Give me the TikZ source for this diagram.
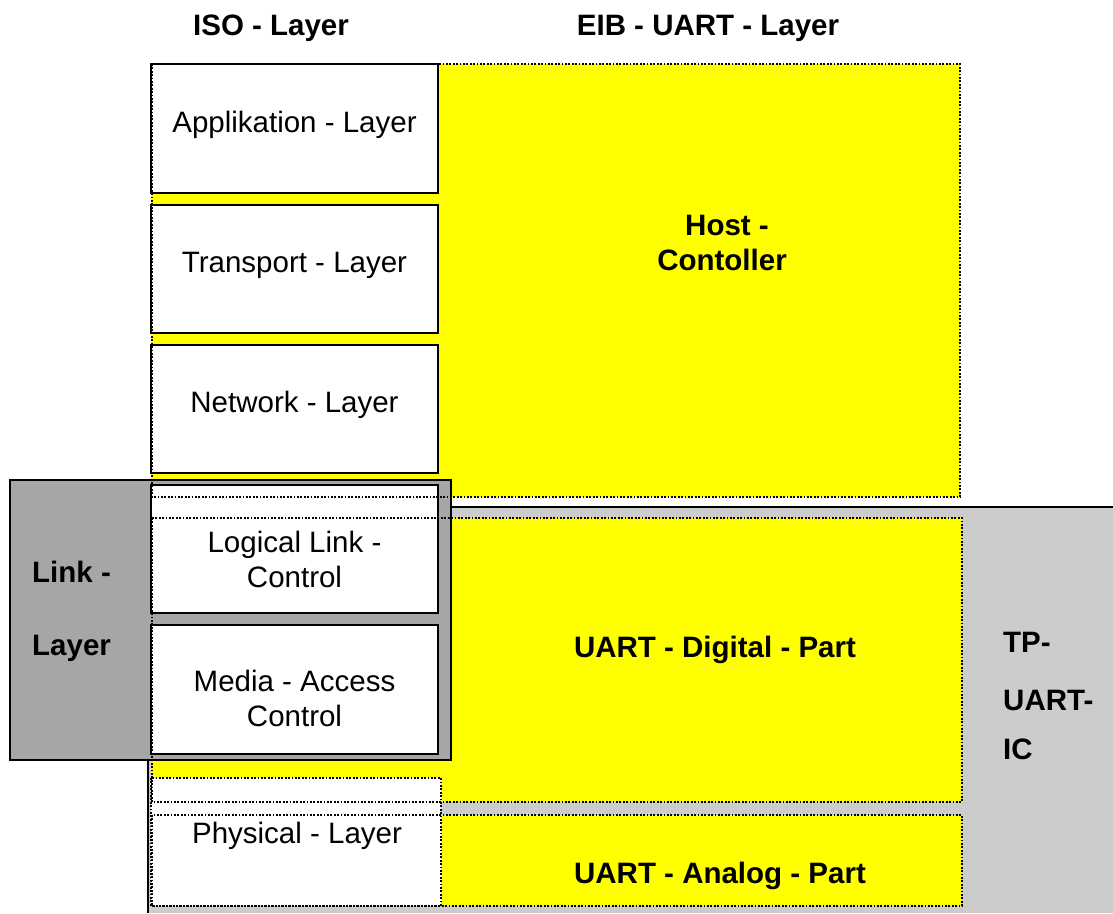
\documentclass[tikz,border=0pt]{standalone}
\usepackage{fontspec}
\setmainfont{Liberation Sans}
\definecolor{ylw}{HTML}{FFFF00}
\definecolor{tpgray}{HTML}{CCCCCC}
\definecolor{linkgray}{HTML}{A6A6A6}
\begin{document}
\begin{tikzpicture}[x=1pt,y=-1pt,
  txt/.style={inner sep=0pt,anchor=base,font=\fontsize{29.5}{35}\selectfont},
  btxt/.style={txt,font=\fontsize{29.5}{35}\selectfont\bfseries},
  ltxt/.style={btxt,anchor=base west},
  isobox/.style={draw=black,line width=1.5pt,fill=white},
  dotline/.style={draw=black,line width=1.6pt,dash pattern=on 1.8pt off 1.6pt},
  yfill/.style={fill=ylw}]
\useasboundingbox (0,0) rectangle (1113,913);
% TP-UART-IC region
\fill[tpgray] (148,507) rectangle (1113,913);
\draw[line width=2pt] (148,913) -- (148,507) -- (1113,507);
% yellow regions (fills)
\fill[yfill] (151,64) rectangle (960,497);
\fill[yfill] (151,518) rectangle (962,802);
\fill[yfill] (151,815) rectangle (962,906);
% link layer box
\draw[line width=2pt,fill=linkgray] (10,480) rectangle (451,760);
% ISO boxes
\draw[isobox] (151,64) rectangle (438,193);
\draw[isobox] (151,205) rectangle (438,333);
\draw[isobox] (151,345) rectangle (438,473);
\draw[isobox] (151,485) rectangle (438,613);
\draw[isobox] (151,625) rectangle (438,754);
\fill[white] (151,778) rectangle (441,906);
\draw[dotline] (151,778) rectangle (441,906);
% dotted borders of yellow regions
\draw[dotline] (152,64) rectangle (960,497);
\draw[dotline] (152,518) rectangle (962,802);
\draw[dotline] (152,815) rectangle (962,906);
% headers
\node[btxt] (iso) at (271,35) {ISO - Layer};
\node[btxt] (eib) at (708,35) {EIB - UART - Layer};
% ISO texts
\node[txt] (app) at (294.5,132) {Applikation - Layer};
\node[txt] (trans) at (294.5,272) {Transport - Layer};
\node[txt] (net) at (294.5,412) {Network - Layer};
\node[txt] (llc1) at (294.5,552) {Logical Link -};
\node[txt] (llc2) at (294.5,587) {Control};
\node[txt] (mac1) at (294.5,691) {Media - Access};
\node[txt] (mac2) at (294.5,726) {Control};
\node[txt] (phy) at (297,843) {Physical - Layer};
% EIB texts
\node[btxt] (host1) at (727,235) {Host -};
\node[btxt] (host2) at (722,270) {Contoller};
\node[btxt] (dig) at (715,657) {UART - Digital - Part};
\node[btxt] (ana) at (720,883) {UART - Analog - Part};
\node[ltxt] (link1) at (32,582) {Link -};
\node[ltxt] (link2) at (32,655) {Layer};
\node[ltxt] (tp1) at (1003,652) {TP-};
\node[ltxt] (tp2) at (1003,710) {UART-};
\node[ltxt] (tp3) at (1003,759) {IC};
\end{tikzpicture}
\end{document}
